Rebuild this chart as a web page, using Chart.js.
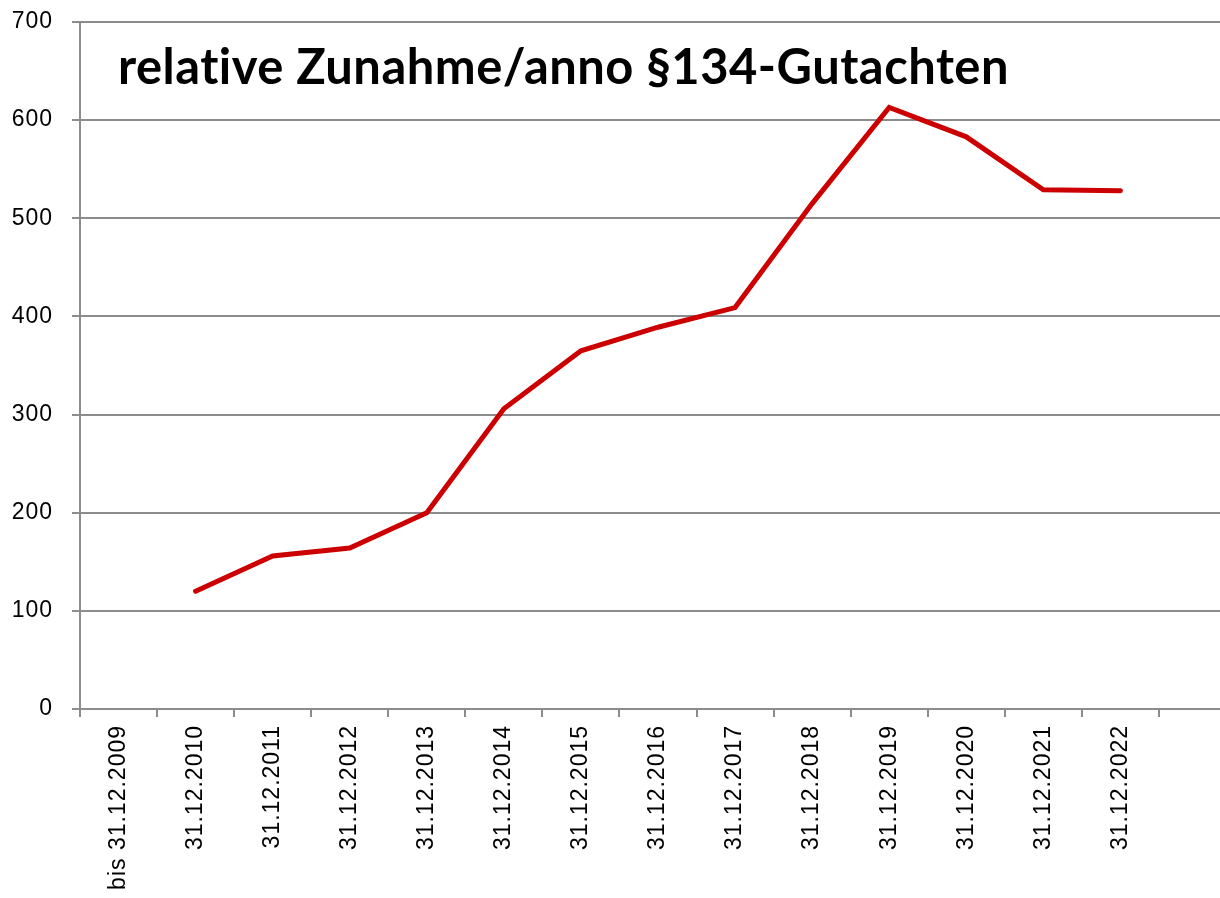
<!DOCTYPE html>
<html>
<head>
<meta charset="utf-8">
<script src="https://cdn.jsdelivr.net/npm/chart.js@4/dist/chart.umd.min.js"></script>
<style>
  html, body { margin: 0; padding: 0; background: #fff; overflow: hidden; }
  #wrap { width: 1220px; height: 898px; overflow: hidden; }
  canvas { display: block; }
</style>
</head>
<body>
<div id="wrap"><canvas id="c" width="1250" height="898"></canvas></div>
<script>
const categories = ["bis 31.12.2009", "31.12.2010", "31.12.2011", "31.12.2012", "31.12.2013",
  "31.12.2014", "31.12.2015", "31.12.2016", "31.12.2017", "31.12.2018", "31.12.2019",
  "31.12.2020", "31.12.2021", "31.12.2022", ""];
const values = [null, 120, 156, 164, 200, 306, 365, 389, 409, 515, 613, 583, 529, 528, null];
const titleText = "relative Zunahme/anno §134-Gutachten";
const yMin = 0, yMax = 700, yStep = 100;

const gridColor = "#8c8c8c";

const spacingPlugin = {
  id: "xSpacing",
  beforeDraw(chart) { chart.ctx.letterSpacing = "1px"; },
  afterDraw(chart) { chart.ctx.letterSpacing = "0px"; }
};

const titlePlugin = {
  id: "innerTitle",
  afterDraw(chart) {
    const ctx = chart.ctx;
    ctx.save();
    ctx.fillStyle = "#000";
    ctx.textBaseline = "alphabetic";
    ctx.textAlign = "left";
    ctx.letterSpacing = "0.5px";
    let size = 42;
    ctx.font = "bold " + size + "px Lato";
    const w = ctx.measureText(titleText).width;
    size = size * 894 / w;
    ctx.font = "bold " + size.toFixed(2) + "px Lato";
    ctx.fillText(titleText, 118, 84);
    ctx.restore();
  }
};

new Chart(document.getElementById("c"), {
  type: "line",
  data: {
    labels: categories,
    datasets: [{
      data: values,
      borderColor: "#cc0000",
      borderWidth: 5,
      borderCapStyle: "round",
      borderJoinStyle: "miter",
      pointRadius: 0,
      tension: 0,
      fill: false
    }]
  },
  options: {
    responsive: false,
    animation: false,
    layout: { padding: { top: 22, right: 14, left: 0, bottom: 0 } },
    plugins: { legend: { display: false }, tooltip: { enabled: false }, title: { display: false } },
    scales: {
      x: {
        type: "category",
        offset: true,
        grid: {
          offset: true,
          drawOnChartArea: false,
          drawTicks: true,
          tickLength: 8,
          color: gridColor,
          lineWidth: 2
        },
        border: { display: true, color: gridColor, width: 2 },
        ticks: {
          autoSkip: false,
          minRotation: 90,
          maxRotation: 90,
          padding: 8,
          color: "#000",
          font: { family: "Liberation Sans", size: 23 }
        },
        afterFit(scale) {
          scale.height = 898 - 709;
          scale.paddingLeft = 0; scale.paddingRight = 0;
        }
      },
      y: {
        min: yMin,
        max: yMax,
        grid: {
          color: gridColor,
          lineWidth: 2,
          tickLength: 8,
          drawTicks: true
        },
        border: { display: true, color: gridColor, width: 2 },
        ticks: {
          stepSize: yStep,
          padding: 19,
          color: "#000",
          font: { family: "Liberation Sans", size: 23 }
        },
        afterFit(scale) {
          scale.width = 80;
          scale.paddingTop = 0; scale.paddingBottom = 0;
        }
      }
    }
  },
  plugins: [spacingPlugin, titlePlugin]
});
</script>
</body>
</html>
